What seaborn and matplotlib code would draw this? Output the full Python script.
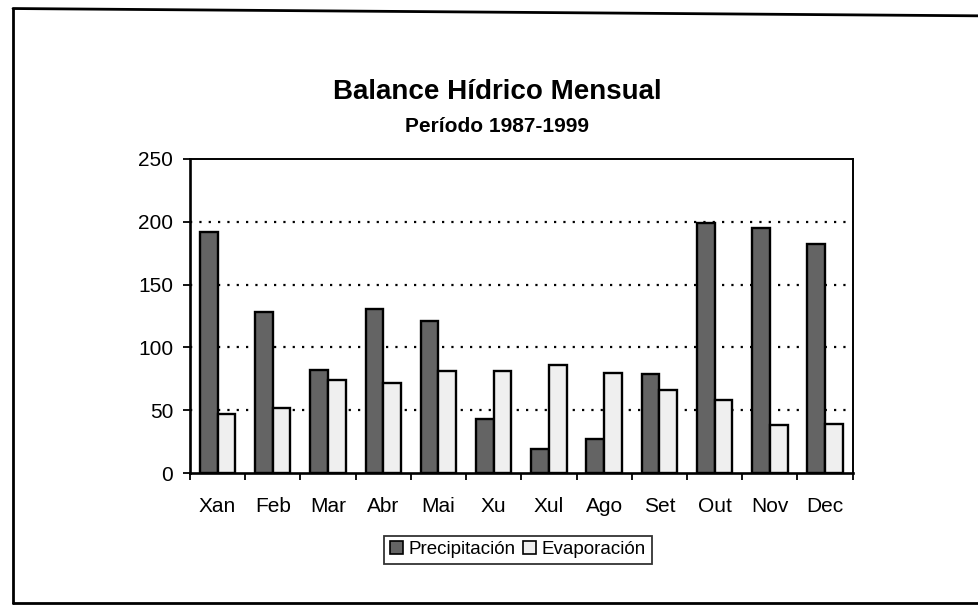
import matplotlib
matplotlib.use("Agg")
import matplotlib.pyplot as plt
import seaborn as sns
import pandas as pd
import numpy as np
from matplotlib.patches import Patch
from matplotlib.lines import Line2D

meses = ["Xan", "Feb", "Mar", "Abr", "Mai", "Xu", "Xul", "Ago", "Set", "Out", "Nov", "Dec"]
precipitacion = [192, 128, 82, 131, 121, 43, 19, 27, 79, 199, 195, 182]
evaporacion = [47, 52, 74, 72, 81, 81, 86, 80, 66, 58, 38, 39]
series = ["Precipitación", "Evaporación"]
yticks = [0, 50, 100, 150, 200, 250]

df = pd.DataFrame({
    "Mes": meses * 2,
    "Valor": precipitacion + evaporacion,
    "Serie": [series[0]] * len(meses) + [series[1]] * len(meses),
})

sns.set_theme(style="white")
plt.rcParams["font.family"] = ["Liberation Sans", "DejaVu Sans"]
for k in ["text.color", "axes.labelcolor", "xtick.color", "ytick.color"]:
    plt.rcParams[k] = "black"

fig = plt.figure(figsize=(9.79, 6.09), dpi=100)
ax = fig.add_axes([0.194, 0.223, 0.677, 0.516])

palette = {series[0]: "#646464", series[1]: "#efefef"}
sns.barplot(data=df, x="Mes", y="Valor", hue="Serie", order=meses,
            hue_order=series, palette=palette, width=0.64,
            edgecolor="black", linewidth=1.7, saturation=1, ax=ax, legend=False)

ax.set_ylim(0, 250)
ax.set_xlim(-0.5, len(meses) - 0.5)
ax.set_yticks(yticks)
ax.set_yticklabels([str(v) for v in yticks], fontsize=15)
ax.set_xlabel("")
ax.set_ylabel("")

for v in yticks[1:-1]:
    ax.axhline(v, color="black", linestyle=(0, (1, 3.2)), linewidth=1.6, zorder=0.5)

ax.tick_params(axis="x", which="major", length=0, labelsize=15, pad=17)
ax.set_xticks(np.arange(-0.5, len(meses), 1.0), minor=True)
ax.tick_params(axis="x", which="minor", length=5, width=1.3, color="black", direction="out", bottom=True)
ax.tick_params(axis="y", length=5, width=1.3, color="black", direction="out", left=True, pad=7)

for side in ["left", "bottom"]:
    ax.spines[side].set_color("black")
    ax.spines[side].set_linewidth(1.9)
for side in ["top", "right"]:
    ax.spines[side].set_color("black")
    ax.spines[side].set_linewidth(1.4)

fig.text(0.508, 0.849, "Balance Hídrico Mensual", ha="center", va="center",
         fontsize=20, fontweight="bold")
fig.text(0.508, 0.793, "Período 1987-1999", ha="center", va="center",
         fontsize=15, fontweight="bold")

handles = [Patch(facecolor=palette[s], edgecolor="black", linewidth=1.2, label=s) for s in series]
leg = fig.legend(handles=handles, loc="center", bbox_to_anchor=(0.529, 0.097),
                 ncol=2, fontsize=13.5, frameon=True, fancybox=False,
                 handlelength=0.7, handleheight=0.7, handletextpad=0.3,
                 columnspacing=0.4, borderpad=0.3, borderaxespad=0)
leg.get_frame().set_edgecolor("black")
leg.get_frame().set_linewidth(1.3)

# outer frame of the scanned chart
fig.add_artist(Line2D([0.0133, 0.0133], [0.010, 0.986], transform=fig.transFigure, color="black", linewidth=2))
fig.add_artist(Line2D([0.0133, 1.0], [0.986, 0.974], transform=fig.transFigure, color="black", linewidth=2))
fig.add_artist(Line2D([0.0133, 1.0], [0.010, 0.010], transform=fig.transFigure, color="black", linewidth=2))

fig.savefig("out.png", dpi=100, facecolor="white")
